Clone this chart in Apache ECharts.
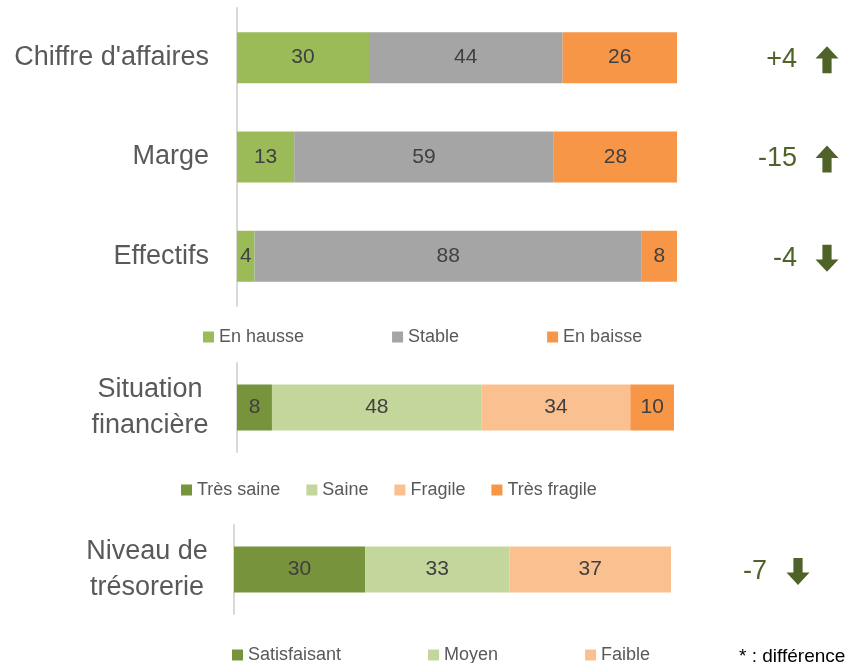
<!DOCTYPE html>
<html>
<head>
<meta charset="utf-8">
<script src="https://cdn.jsdelivr.net/npm/echarts@6/dist/echarts.min.js"></script>
<style>
html,body{margin:0;padding:0;background:#fff;}
#chart{width:846px;height:663px;}
</style>
</head>
<body>
<div id="chart"></div>
<script>
// ---- Data ----
const topCategories = ["Chiffre d'affaires", "Marge", "Effectifs"];
const enHausse = [30, 13, 4];
const stable = [44, 59, 88];
const enBaisse = [26, 28, 8];
const topDiff = [4, -15, -4];
const topArrow = ["up", "up", "down"];

const situationCategories = ["Situation\nfinancière"];
const tresSaine = [8];
const saine = [48];
const fragile = [34];
const tresFragile = [10];

const tresorerieCategories = ["Niveau de\ntrésorerie"];
const satisfaisant = [30];
const moyen = [33];
const faible = [37];
const tresorerieDiff = [-7];
const tresorerieArrow = ["down"];

const footnote = "* : différence";

// ---- Styles ----
const FONT = "Liberation Sans";
const GREEN = "#9BBB59", GRAY = "#A5A5A5", ORANGE = "#F79646";
const DKGREEN = "#77933C", LTGREEN = "#C3D69B", PEACH = "#FAC090";
const DIFF = "#4F6228";
const ARROW = "path://M50,0 L100,46 L70,46 L70,100 L30,100 L30,46 L0,46 Z";

function fmtDiff(v) { return v > 0 ? "+" + v : String(v); }

function barSeries(name, data, color, idx, stack, bw) {
  return {
    name: name, type: "bar", stack: stack, data: data,
    xAxisIndex: idx, yAxisIndex: idx, barWidth: bw,
    itemStyle: { color: color },
    label: { show: true, position: "inside", color: "#404040", fontSize: 21, fontFamily: FONT, formatter: "{c}" },
    emphasis: { disabled: true }
  };
}
function diffSeries(cats, diffs, idx, dx) {
  return {
    type: "scatter", xAxisIndex: idx, yAxisIndex: idx, symbolSize: 1,
    itemStyle: { color: "rgba(0,0,0,0)", opacity: 1 }, silent: true,
    emphasis: { disabled: true },
    data: cats.map((c, i) => ({ value: [100, c], name: fmtDiff(diffs[i]) })),
    label: { show: true, position: "inside", align: "right", offset: [dx, 2], formatter: p => p.name,
      color: DIFF, opacity: 1, fontSize: 27, fontFamily: FONT }
  };
}
function arrowSeries(cats, dirs, idx, dx) {
  return {
    type: "scatter", xAxisIndex: idx, yAxisIndex: idx, symbol: ARROW, symbolSize: [23, 27],
    symbolOffset: [dx, 2], itemStyle: { color: DIFF, opacity: 1 }, silent: true,
    emphasis: { disabled: true },
    data: cats.map((c, i) => ({ value: [100, c], symbolRotate: dirs[i] === "down" ? 180 : 0 }))
  };
}

const axisLine = { show: true, lineStyle: { color: "#D9D9D9", width: 2 } };
const legendText = { fontSize: 18, color: "#595959", fontFamily: FONT };

const chart = echarts.init(document.getElementById("chart"));
chart.setOption({
  animation: false,
  title: { text: footnote, left: 739, top: 647, padding: 0,
    textStyle: { fontSize: 19, fontWeight: "normal", color: "#000", fontFamily: FONT } },
  grid: [
    { left: 237, top: 8, width: 440, height: 298 },
    { left: 237, top: 363, width: 437, height: 89 },
    { left: 234, top: 525, width: 437, height: 89 }
  ],
  legend: [
    { data: ["En hausse", "Stable", "En baisse"], left: 203, top: 328, padding: 0, itemGap: 88,
      itemWidth: 11, itemHeight: 11, icon: "rect", textStyle: legendText },
    { data: ["Très saine", "Saine", "Fragile", "Très fragile"], left: 181, top: 481, padding: 0, itemGap: 26,
      itemWidth: 11, itemHeight: 11, icon: "rect", textStyle: legendText },
    { data: ["Satisfaisant", "Moyen", "Faible"], left: 232, top: 646, padding: 0, itemGap: 87,
      itemWidth: 11, itemHeight: 11, icon: "rect", textStyle: legendText }
  ],
  xAxis: [0, 1, 2].map(i => ({ type: "value", gridIndex: i, min: 0, max: 100, show: false })),
  yAxis: [
    { type: "category", gridIndex: 0, data: topCategories, inverse: true, axisLine: axisLine,
      axisTick: { show: false },
      axisLabel: { color: "#595959", fontSize: 27, fontFamily: FONT, margin: 28 } },
    { type: "category", gridIndex: 1, data: situationCategories, axisLine: axisLine,
      axisTick: { show: false },
      axisLabel: { color: "#595959", fontSize: 27, fontFamily: FONT, margin: 87, align: "center", lineHeight: 36 } },
    { type: "category", gridIndex: 2, data: tresorerieCategories, axisLine: axisLine,
      axisTick: { show: false },
      axisLabel: { color: "#595959", fontSize: 27, fontFamily: FONT, margin: 87, align: "center", lineHeight: 36 } }
  ],
  series: [
    barSeries("En hausse", enHausse, GREEN, 0, "a", 51),
    barSeries("Stable", stable, GRAY, 0, "a", 51),
    barSeries("En baisse", enBaisse, ORANGE, 0, "a", 51),
    diffSeries(topCategories, topDiff, 0, 120),
    arrowSeries(topCategories, topArrow, 0, 150),
    barSeries("Très saine", tresSaine, DKGREEN, 1, "b", 46),
    barSeries("Saine", saine, LTGREEN, 1, "b", 46),
    barSeries("Fragile", fragile, PEACH, 1, "b", 46),
    barSeries("Très fragile", tresFragile, ORANGE, 1, "b", 46),
    barSeries("Satisfaisant", satisfaisant, DKGREEN, 2, "c", 46),
    barSeries("Moyen", moyen, LTGREEN, 2, "c", 46),
    barSeries("Faible", faible, PEACH, 2, "c", 46),
    diffSeries(tresorerieCategories, tresorerieDiff, 2, 96),
    arrowSeries(tresorerieCategories, tresorerieArrow, 2, 127)
  ]
});
</script>
</body>
</html>
